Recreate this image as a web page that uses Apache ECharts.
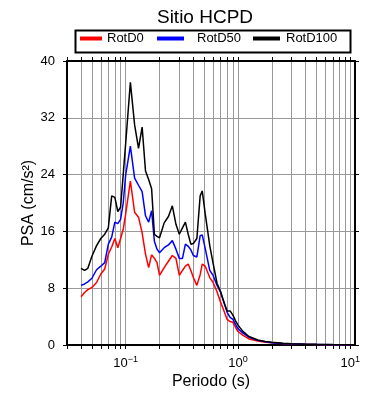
<!DOCTYPE html>
<html>
<head>
<meta charset="utf-8">
<title>Sitio HCPD</title>
<script src="https://cdn.jsdelivr.net/npm/echarts@6/dist/echarts.min.js"></script>
<style>
	html, body { margin: 0; padding: 0; background: #fff; }
	#chart { width: 390px; height: 400px; }
</style>
</head>
<body>
<div id="chart"></div>
<script>
// periodos (s)
var periods = [0.04, 0.043, 0.046, 0.05, 0.055, 0.06, 0.065, 0.07, 0.075, 0.08,
	0.085, 0.09, 0.095, 0.1, 0.11, 0.12, 0.13, 0.14, 0.15, 0.16,
	0.17, 0.18, 0.19, 0.2, 0.22, 0.24, 0.26, 0.28, 0.3, 0.32,
	0.34, 0.36, 0.38, 0.4, 0.43, 0.46, 0.48, 0.51, 0.56, 0.6,
	0.65, 0.7, 0.75, 0.8, 0.85, 0.9, 0.95, 1.0, 1.1, 1.25,
	1.5, 1.75, 2.0, 2.5, 3.0, 4.0, 5.0, 7.0, 10.0];
// PSA (cm/s2)
var rotD0 = [6.8, 7.4, 7.8, 8.1, 8.8, 10.0, 10.7, 12.8, 13.8, 15.0,
	13.7, 15.0, 16.3, 18.5, 23.1, 18.7, 18.0, 15.8, 12.8, 10.9,
	12.7, 12.2, 11.6, 9.8, 10.9, 11.8, 12.6, 12.2, 9.8, 10.5,
	11.1, 11.4, 10.5, 9.5, 8.4, 9.9, 11.4, 11.1, 9.5, 8.8,
	7.5, 6.0, 4.8, 3.6, 3.3, 3.2, 2.5, 1.9, 1.4, 0.85,
	0.55, 0.4, 0.3, 0.2, 0.14, 0.09, 0.07, 0.045, 0.03];
var rotD50 = [8.4, 8.6, 8.9, 9.4, 10.6, 11.1, 11.6, 14.2, 15.2, 17.3,
	17.1, 17.7, 20.0, 24.0, 28.0, 23.5, 22.5, 21.6, 18.2, 17.3,
	18.9, 14.6, 13.5, 13.0, 13.7, 14.1, 14.7, 13.5, 12.2, 12.2,
	14.2, 13.9, 13.4, 12.6, 12.4, 15.4, 15.5, 13.6, 10.5, 9.8,
	8.4, 7.4, 6.0, 4.6, 3.9, 3.6, 2.9, 2.3, 1.7, 1.1,
	0.65, 0.45, 0.33, 0.22, 0.16, 0.1, 0.08, 0.05, 0.035];
var rotD100 = [10.8, 10.5, 10.8, 12.5, 14.0, 15.0, 15.6, 16.5, 21.0, 20.8,
	18.8, 19.4, 24.0, 28.5, 37.0, 31.0, 27.7, 30.7, 24.5, 23.3,
	22.0, 15.6, 15.3, 15.1, 17.2, 18.1, 19.6, 17.0, 15.6, 16.5,
	17.3, 15.6, 14.2, 14.3, 15.0, 21.0, 21.7, 18.5, 14.0, 11.5,
	8.7, 7.5, 6.0, 4.8, 4.8, 4.2, 3.4, 2.8, 1.95, 1.2,
	0.7, 0.5, 0.38, 0.25, 0.18, 0.12, 0.09, 0.06, 0.04];
var seriesNames = ['RotD0', 'RotD50', 'RotD100'];
var seriesColors = ['#ff0000', '#0000ff', '#000000'];
// marcas del eje log
var xTicks = [0.03, 0.04, 0.05, 0.06, 0.07, 0.08, 0.09,
	0.1, 0.2, 0.3, 0.4, 0.5, 0.6, 0.7, 0.8, 0.9,
	1, 2, 3, 4, 5, 6, 7, 8, 9, 10];
var xLabels = [0.1, 1, 10];
var yTicks = [0, 8, 16, 24, 32, 40];

var font = 'Liberation Sans';
var myChart = echarts.init(document.getElementById('chart'), null, {renderer: 'canvas'});

function pairs(values) {
	var out = [];
	for(var i = 0; i < periods.length; i++) {
		out.push([periods[i], values[i]]);
	}
	return out;
}

function xLabelFmt(v) {
	var e = Math.round(Math.log(v) / Math.LN10);
	if(Math.abs(v - Math.pow(10, e)) > 1e-9 * v) return '';
	return '{b|10}{s|' + (e < 0 ? '\u2212' + (-e) : e) + '}';
}

var legendBase = {
	top: 32,
	padding: 0,
	icon: 'rect',
	itemHeight: 4,
	selectedMode: false,
	textStyle: {color: '#000', fontSize: 13, fontFamily: font}
};

var option = {
	animation: false,
	textStyle: {fontFamily: font, color: '#000'},
	title: {
		text: 'Sitio HCPD',
		left: 200,
		textAlign: 'center',
		top: 3,
		textStyle: {fontSize: 19, fontWeight: 'normal', color: '#000', fontFamily: font}
	},
	legend: [
		echarts.util.merge({data: ['RotD0'], left: 80, itemWidth: 22}, legendBase, false),
		echarts.util.merge({data: ['RotD50'], left: 157, itemWidth: 27,
			textStyle: {color: '#000', fontSize: 13, fontFamily: font, padding: [0, 0, 0, 8]}}, legendBase, false),
		echarts.util.merge({data: ['RotD100'], left: 253, itemWidth: 27,
			textStyle: {color: '#000', fontSize: 13, fontFamily: font, padding: [0, 0, 0, 1]}}, legendBase, false)
	],
	graphic: [{
		type: 'rect',
		left: 73,
		top: 28,
		shape: {width: 275, height: 22},
		style: {fill: 'none', stroke: '#000', lineWidth: 2},
		silent: true
	}],
	grid: {left: 67, right: 35, top: 61, bottom: 55, outerBoundsMode: 'none'},
	xAxis: [{
		type: 'log',
		min: 0.03,
		max: 11,
		position: 'bottom',
		name: 'Periodo (s)',
		nameLocation: 'middle',
		nameGap: 29,
		nameMoveOverlap: false,
		nameTextStyle: {fontSize: 16, color: '#000', fontFamily: font},
		axisLine: {show: true, onZero: false, lineStyle: {color: '#000', width: 2}},
		axisTick: {show: true, inside: false, length: 4, customValues: xTicks, lineStyle: {color: '#000', width: 1}},
		axisLabel: {
			show: true,
			customValues: xLabels,
			margin: 10,
			formatter: xLabelFmt,
			rich: {
				b: {fontSize: 13, color: '#000', fontFamily: font},
				s: {fontSize: 9, color: '#000', fontFamily: font, padding: [0, 0, 8, 0]}
			}
		},
		splitLine: {show: true, lineStyle: {color: '#999', width: 1}},
		minorTick: {show: false},
		minorSplitLine: {show: false}
	}, {
		type: 'log',
		min: 0.03,
		max: 11,
		position: 'top',
		axisLine: {show: true, onZero: false, lineStyle: {color: '#000', width: 2}},
		axisTick: {show: true, inside: false, length: 4, customValues: xTicks, lineStyle: {color: '#000', width: 1}},
		axisLabel: {show: false},
		splitLine: {show: false}
	}],
	yAxis: [{
		type: 'value',
		min: 0,
		max: 40,
		interval: 8,
		position: 'left',
		name: 'PSA (cm/s\u00b2)',
		nameLocation: 'middle',
		nameGap: 30,
		nameMoveOverlap: false,
		nameTextStyle: {fontSize: 16, color: '#000', fontFamily: font},
		axisLine: {show: true, onZero: false, lineStyle: {color: '#000', width: 2}},
		axisTick: {show: true, inside: false, length: 4, lineStyle: {color: '#000', width: 1}},
		axisLabel: {show: true, margin: 12, fontSize: 13, color: '#000', fontFamily: font},
		splitLine: {show: true, lineStyle: {color: '#999', width: 1}}
	}, {
		type: 'value',
		min: 0,
		max: 40,
		interval: 8,
		position: 'right',
		axisLine: {show: true, onZero: false, lineStyle: {color: '#000', width: 2}},
		axisTick: {show: true, inside: false, length: 4, lineStyle: {color: '#000', width: 1}},
		axisLabel: {show: false},
		splitLine: {show: false}
	}],
	series: [rotD0, rotD50, rotD100].map(function(vals, i) {
		return {
			name: seriesNames[i],
			type: 'line',
			xAxisIndex: 0,
			yAxisIndex: 0,
			data: pairs(vals),
			showSymbol: false,
			symbol: 'none',
			color: seriesColors[i],
			lineStyle: {color: seriesColors[i], width: 1.5},
			emphasis: {disabled: true}
		};
	})
};
myChart.setOption(option);
</script>
</body>
</html>
